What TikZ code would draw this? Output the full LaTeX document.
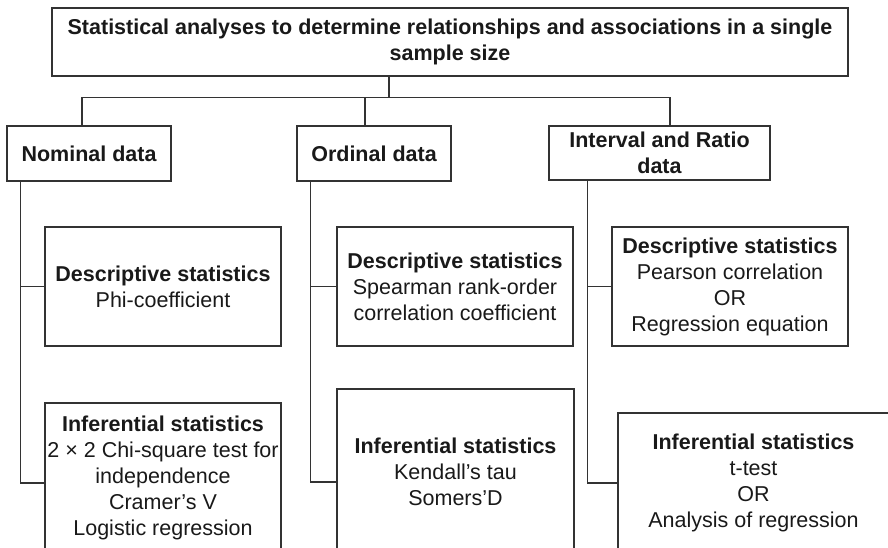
\documentclass[tikz,border=0pt]{standalone}
\usepackage{fontspec}
\setmainfont{Liberation Sans}

\begin{document}
\begin{tikzpicture}[x=1pt, y=-1pt,
   conn/.style={draw=black!80, line width=1.2pt},
   box/.style={draw=black!80, line width=1.2pt, align=center, inner sep=2pt,
     text=black!90, font=\fontsize{21.5}{26}\selectfont},
   head/.style={box, font=\fontsize{21.5}{26}\selectfont\bfseries}]
   \useasboundingbox (0,0) rectangle (888,547);
   \clip (0,0) rectangle (888,547);

   \node[head, minimum width=796, minimum height=68] (top) at (450,42)
     {Statistical analyses to determine relationships and associations in a single\\sample size};

   \node[head, minimum width=164, minimum height=55] (nom) at (89,153.5) {Nominal data};
   \node[head, minimum width=154, minimum height=55] (ord) at (374,153.5) {Ordinal data};
   \node[head, minimum width=221, minimum height=54] (int) at (659.5,153) {Interval and Ratio\\data};

   \node[box, minimum width=236, minimum height=119] (nom-desc) at (163,286.5)
     {\textbf{Descriptive statistics}\\Phi-coefficient};
   \node[box, minimum width=236, minimum height=119] (ord-desc) at (455,286.5)
     {\textbf{Descriptive statistics}\\Spearman rank-order\\correlation coefficient};
   \node[box, minimum width=236, minimum height=119] (int-desc) at (730,286.5)
     {\textbf{Descriptive statistics}\\Pearson correlation\\OR\\Regression equation};

   \node[box, minimum width=236, minimum height=149] (nom-inf) at (163,477.5)
     {\textbf{Inferential statistics}\\2 × 2 Chi-square test for\\independence\\Cramer's V\\Logistic regression};
   \node[box, minimum width=237, minimum height=165] (ord-inf) at (455.5,471.5)
     {\textbf{Inferential statistics}\\Kendall's tau\\Somers'D};
   \node[box, minimum width=271, minimum height=140] (int-inf) at (753.5,483)
     {\textbf{Inferential statistics}\\t-test\\OR\\Analysis of regression};

   \coordinate (hub) at (389,97.5);
   \draw[conn] (top.south -| hub) -- (hub);
   \foreach \c/\dx in {nom/-7, ord/-9, int/10.5}
     \draw[conn] ([xshift=\dx]\c.north) |- (hub);
   \foreach \c/\dx/\dy in {nom/14/-5.5, ord/14/-10.5, int/39/0} {
     \draw[conn] ([xshift=\dx]\c.south west) |- (\c-desc.west);
     \draw[conn] ([xshift=\dx]\c.south west) |- ([yshift=\dy]\c-inf.west);
   }
\end{tikzpicture}
\end{document}
